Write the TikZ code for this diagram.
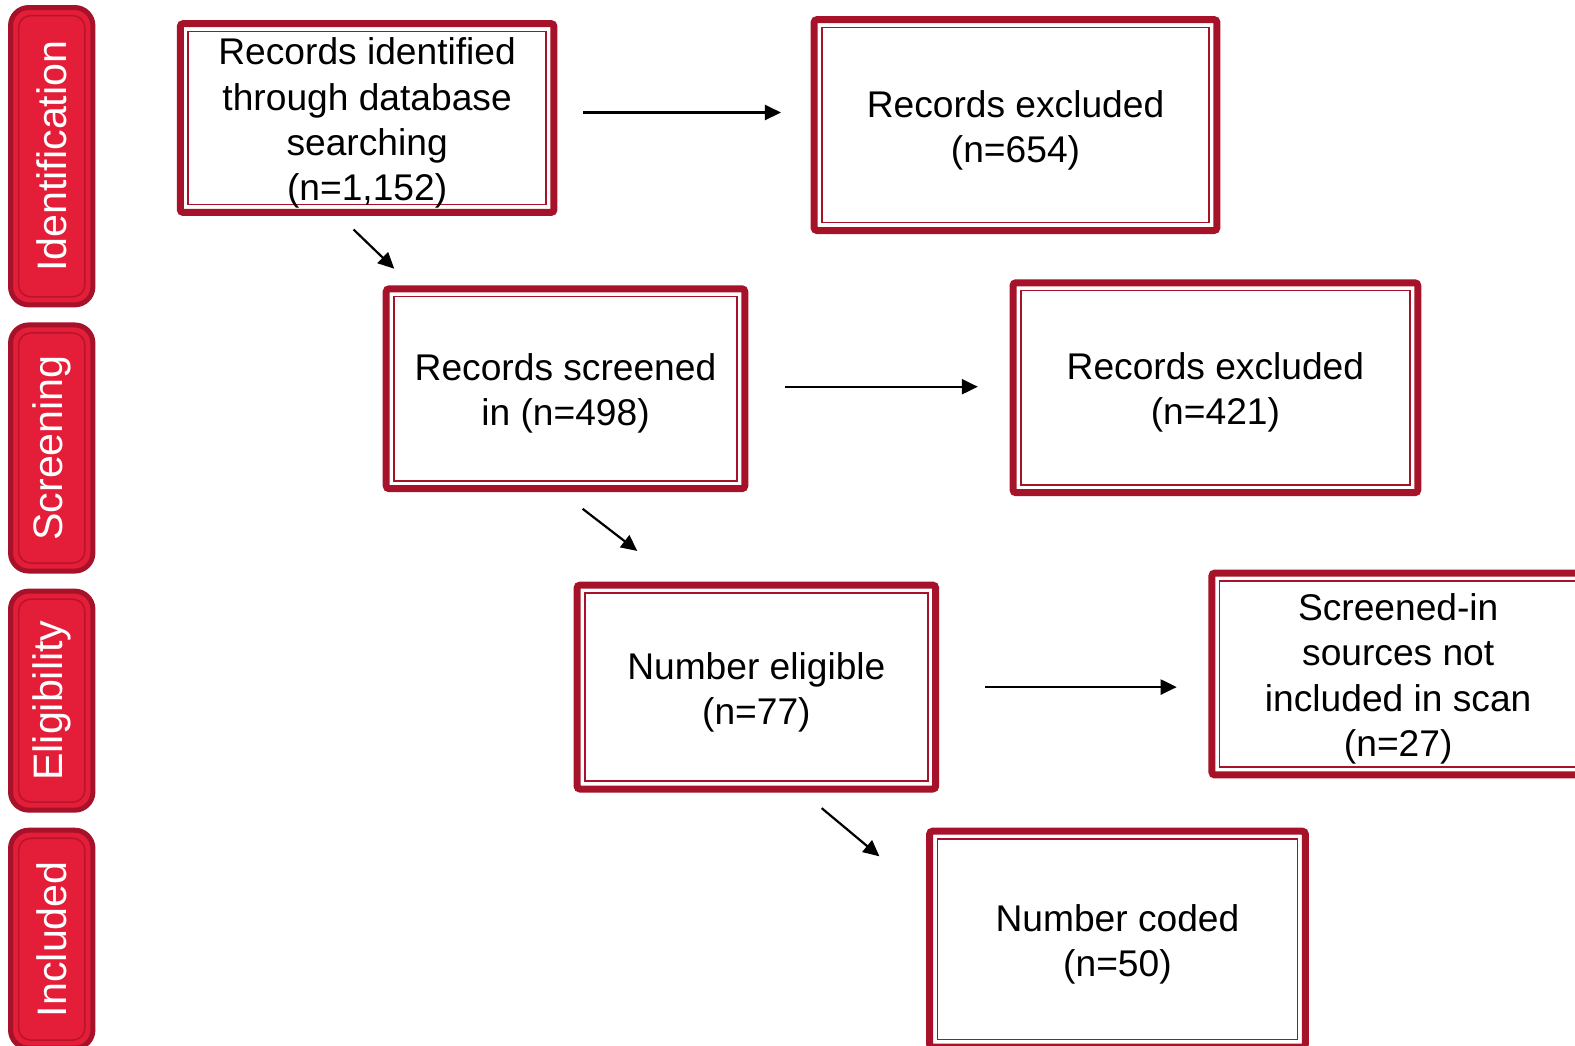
\documentclass[tikz,border=0pt]{standalone}
\usepackage{fontspec}
\setmainfont{Liberation Sans}
\usetikzlibrary{arrows.meta}
\definecolor{boxred}{RGB}{166,18,41}
\definecolor{sidered}{RGB}{228,30,56}
\definecolor{sideline}{RGB}{186,20,44}
\newcommand{\boxlines}[1]{\raisebox{-2.75pt}[\height][\depth]{\begin{tabular}{@{}c@{}}#1\end{tabular}}}

\begin{document}
\begin{tikzpicture}[x=0.5pt, y=-0.5pt,
    stage/.style={draw=boxred, line width=3.5pt, rounded corners=1.5pt,
        inner sep=0pt, font=\fontsize{18.5}{22.5}\selectfont,
        path picture={\draw[boxred, line width=0.7pt, sharp corners]
            ([shift={(3.9pt,-3.9pt)}]path picture bounding box.north west) rectangle
            ([shift={(-3.9pt,3.9pt)}]path picture bounding box.south east);}},
    phase/.style={draw=boxred, fill=sidered, line width=2.5pt, rounded corners=9pt,
        minimum width=41pt, inner sep=0pt, text=white,
        font=\fontsize{20.5}{24}\selectfont,
        path picture={\draw[sideline, line width=0.75pt, rounded corners=6pt]
            ([shift={(4pt,-4pt)}]path picture bounding box.north west) rectangle
            ([shift={(-4pt,4pt)}]path picture bounding box.south east);}},
    flow/.style={-{Triangle[length=8pt,width=7.5pt]}, line width=1.1pt, black}]

    \clip (0,0) rectangle (1568,1041);

    \node[phase, minimum height=148pt]   (ident) at (51.5,155.5) {\rotatebox{90}{Identification}};
    \node[phase, minimum height=122.5pt] (scrn)  at (51.5,446)   {\rotatebox{90}{Screening}};
    \node[phase, minimum height=109pt]   (elig)  at (51.5,697.5) {\rotatebox{90}{Eligibility}};
    \node[phase, minimum height=108.5pt] (incl)  at (51.5,935)   {\rotatebox{90}{Included}};

    \node[stage, minimum width=186pt,   minimum height=94pt]    (found)    at (365.5,117.5)
        {\boxlines{Records identified\\through database\\searching\\(n=1,152)}};
    \node[stage, minimum width=200.5pt, minimum height=105pt]   (dropA)    at (1011,124.5)
        {\boxlines{Records excluded\\(n=654)}};
    \node[stage, minimum width=178.5pt, minimum height=99.5pt]  (screened) at (563,387)
        {\boxlines{Records screened\\in (n=498)}};
    \node[stage, minimum width=201.5pt, minimum height=104.5pt] (dropB)    at (1210,386)
        {\boxlines{Records excluded\\(n=421)}};
    \node[stage, minimum width=178.5pt, minimum height=101.5pt] (eligible) at (753,684)
        {\boxlines{Number eligible\\(n=77)}};
    \node[stage, minimum width=185.5pt, minimum height=100.5pt] (notscan)  at (1392,671)
        {\boxlines{Screened-in\\sources not\\included in scan\\(n=27)}};
    \node[stage, minimum width=187pt,   minimum height=107.5pt] (coded)    at (1112.5,935)
        {\boxlines{Number coded\\(n=50)}};

    \draw[flow] ([shift={(12.75pt,2.75pt)}]found.east)      -- ([shift={(-14.75pt,6.25pt)}]dropA.west);
    \draw[flow] ([shift={(-6.75pt,-6.75pt)}]found.south)    -- ([shift={(5.75pt,8.25pt)}]screened.north west);
    \draw[flow] ([shift={(18.25pt,1pt)}]screened.east)      -- ([shift={(-15.75pt,0.5pt)}]dropB.west);
    \draw[flow] ([shift={(8.5pt,-8.25pt)}]screened.south)   -- ([shift={(31.75pt,15.25pt)}]eligible.north west);
    \draw[flow] ([shift={(22.75pt,0pt)}]eligible.east)      -- ([shift={(-15.75pt,-6.5pt)}]notscan.west);
    \draw[flow] ([shift={(32.5pt,-7.75pt)}]eligible.south)  -- ([shift={(-23.25pt,-14.25pt)}]coded.north west);
\end{tikzpicture}
\end{document}
